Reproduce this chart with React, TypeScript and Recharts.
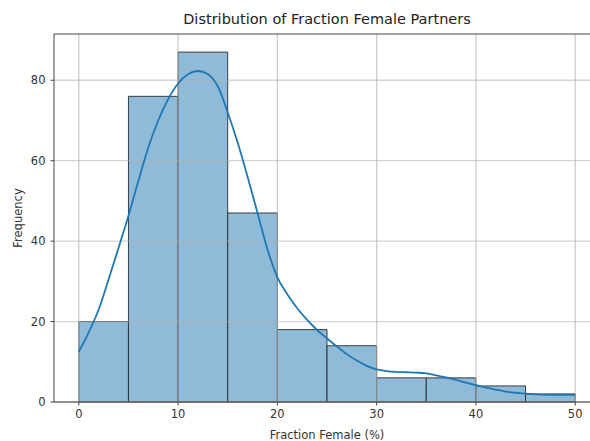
import {
  ComposedChart,
  Line,
  XAxis,
  YAxis,
  ReferenceArea,
  ReferenceLine,
} from 'recharts'

// histogram bins (width 5) and counts
const binStarts = [0, 5, 10, 15, 20, 25, 30, 35, 40, 45]
const binCounts = [20, 76, 87, 47, 18, 14, 6, 6, 4, 2]
const binWidth = 5

// kde curve
const kdeX = [
  0, 1, 2, 3, 4, 5, 6, 7, 8, 9, 10, 11, 12, 13, 14, 15, 16, 17, 18, 19, 20, 21, 22, 23, 24, 25,
  26, 27, 28, 29, 30, 31, 32, 33, 34, 35, 36, 37, 38, 39, 40, 41, 42, 43, 44, 45, 46, 47, 48, 49, 50,
]
const kdeY = [
  12.5, 17.3, 23, 30.5, 38.3, 46.3, 55, 63.3, 70, 75.3, 79.2, 81.5, 82.3, 81.5, 78.5, 72, 64.5, 56,
  47, 38, 31, 26.8, 23.3, 20.4, 17.9, 15.8, 13.8, 11.9, 10.3, 9, 8.1, 7.7, 7.5, 7.4, 7.3, 7.1, 6.6,
  6.1, 5.5, 4.8, 4.2, 3.6, 3.1, 2.6, 2.3, 2.1, 1.9, 1.8, 1.8, 1.8, 1.8,
]

const xTicks = [0, 10, 20, 30, 40, 50]
const yTicks = [0, 20, 40, 60, 80]

const kdeData = kdeX.map((x, i) => ({ x, kde: kdeY[i] }))

const font = '"DejaVu Sans", sans-serif'
const gridColor = '#b0b0b0'

export default function App() {
  return (
    <div
      style={{
        position: 'absolute',
        left: 0,
        top: 0,
        width: 590,
        height: 441,
        overflow: 'hidden',
        background: '#fff',
        fontFamily: font,
      }}
    >
      <div
        style={{
          position: 'absolute',
          top: 11,
          left: 0,
          width: 654,
          textAlign: 'center',
          fontSize: 14.5,
          color: '#222',
          whiteSpace: 'nowrap',
        }}
      >
        Distribution of Fraction Female Partners
      </div>
      <div
        style={{
          position: 'absolute',
          top: 428,
          left: 0,
          width: 654,
          textAlign: 'center',
          fontSize: 11.5,
          color: '#333',
          whiteSpace: 'nowrap',
        }}
      >
        Fraction Female (%)
      </div>
      <div
        style={{
          position: 'absolute',
          left: 18,
          top: 218,
          transform: 'translate(-50%, -50%) rotate(-90deg)',
          fontSize: 11.5,
          color: '#333',
          whiteSpace: 'nowrap',
        }}
      >
        Frequency
      </div>
      <ComposedChart
        width={620}
        height={441}
        data={kdeData}
        margin={{ top: 34, right: 20, bottom: 0, left: 0 }}
        style={{ position: 'absolute', left: 0, top: 0 }}
      >
        <XAxis
          dataKey="x"
          type="number"
          domain={[-2.5, 52.5]}
          ticks={xTicks}
          height={39}
          tickSize={3.5}
          tickMargin={4}
          stroke="#444"
          tick={{ fontSize: 11.5, fill: '#333', fontFamily: font }}
        />
        <YAxis
          type="number"
          domain={[0, 91.5]}
          ticks={yTicks}
          width={54}
          tickSize={3.5}
          tickMargin={5}
          stroke="#444"
          tick={{ fontSize: 11.5, fill: '#333', fontFamily: font }}
        />
        {binStarts.map((s, i) => (
          <ReferenceArea
            key={s}
            x1={s}
            x2={s + binWidth}
            y1={0}
            y2={binCounts[i]}
            fill="#8fbbd9"
            fillOpacity={1}
            stroke="#222"
            strokeOpacity={0.85}
            strokeWidth={1}
          />
        ))}
        {xTicks.map((t) => (
          <ReferenceLine key={'gx' + t} x={t} stroke={gridColor} strokeOpacity={0.65} strokeWidth={1.3} />
        ))}
        {yTicks.map((t) => (
          <ReferenceLine key={'gy' + t} y={t} stroke={gridColor} strokeOpacity={0.55} strokeWidth={1.3} />
        ))}
        <ReferenceLine y={91.5} stroke="#444" strokeWidth={1} />
        <Line
          dataKey="kde"
          type="monotone"
          dot={false}
          stroke="#1f77b4"
          strokeWidth={1.8}
          isAnimationActive={false}
        />
      </ComposedChart>
    </div>
  )
}
